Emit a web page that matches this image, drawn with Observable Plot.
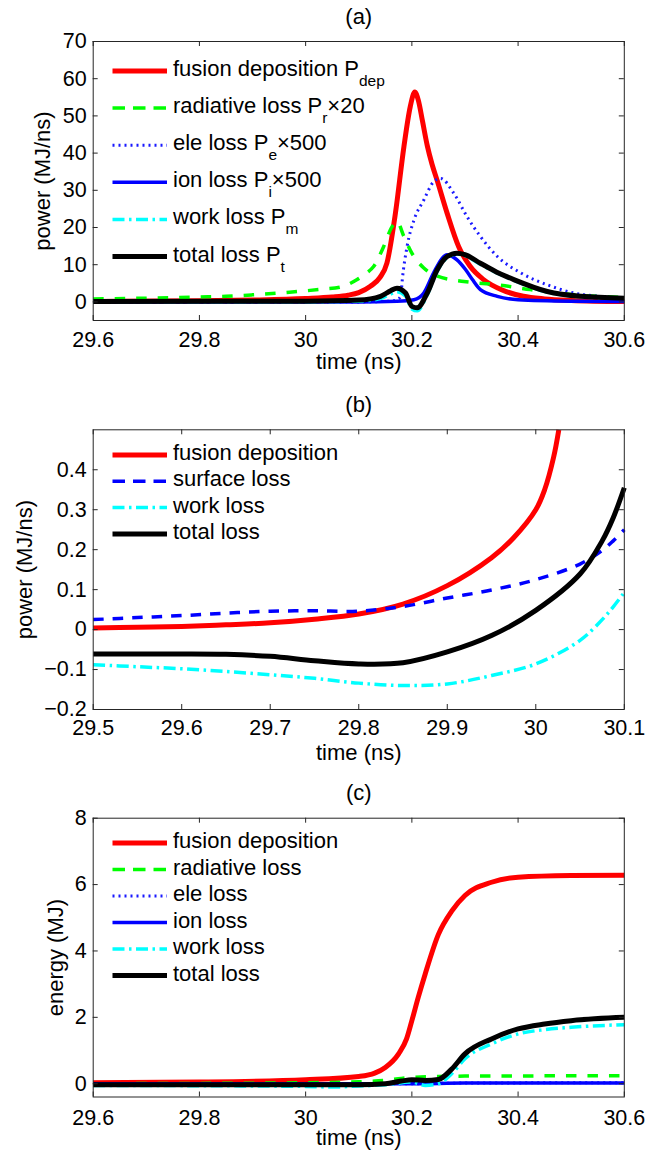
<!DOCTYPE html>
<html>
<head>
<meta charset="utf-8">
<script src="https://cdn.jsdelivr.net/npm/d3@7"></script>
<script src="https://cdn.jsdelivr.net/npm/@observablehq/plot@0.6"></script>
<style>
  html, body { margin: 0; padding: 0; background: #fff; }
  svg { display: block; }
</style>
</head>
<body>
<div id="chart"></div>
<script>
// ---------- Panel (a): power ----------
const aTitle = "(a)";
const aXLabel = "time (ns)";
const aYLabel = "power (MJ/ns)";
const aXDomain = [29.6, 30.6];
const aYDomain = [-5, 70];
const aXTicks = [29.6, 29.8, 30, 30.2, 30.4, 30.6];
const aYTicks = [0, 10, 20, 30, 40, 50, 60, 70];

const aDepT = [29.6, 29.8, 29.9, 30.0, 30.05, 30.08, 30.1, 30.122, 30.14, 30.153, 30.169, 30.185, 30.197, 30.2055, 30.212, 30.22, 30.229, 30.238, 30.248, 30.2665, 30.288, 30.31, 30.335, 30.37, 30.41, 30.45, 30.5, 30.6];
const aDepV = [0.1, 0.3, 0.5, 0.9, 1.3, 1.8, 2.5, 4.2, 6.6, 10.4, 23.8, 41.7, 52.5, 56.4, 54.3, 48.6, 42.0, 37.0, 32.5, 23.8, 14.9, 9.5, 6.0, 3.2, 1.5, 0.8, 0.4, 0.1];

const aRadT = [29.6, 29.7, 29.8, 29.85, 29.9, 29.97, 30.03, 30.066, 30.097, 30.115, 30.128, 30.147, 30.163, 30.172, 30.185, 30.2, 30.2225, 30.248, 30.298, 30.361, 30.423, 30.5, 30.6];
const aRadV = [0.8, 1.0, 1.3, 1.5, 1.9, 2.6, 3.4, 4.0, 6.0, 7.8, 9.5, 14.9, 20.3, 21.6, 17.6, 13.1, 9.1, 6.9, 5.5, 4.6, 3.3, 2.0, 1.2];

const aEleT = [29.6, 30.1, 30.16, 30.172, 30.179, 30.182, 30.191, 30.204, 30.2225, 30.241, 30.254, 30.279, 30.304, 30.329, 30.361, 30.405, 30.455, 30.505, 30.55, 30.6];
const aEleV = [0, 0, 0.2, 0.6, 1.5, 6.0, 14.9, 22.0, 27.4, 32.3, 33.2, 29.2, 22.9, 17.6, 12.2, 7.8, 4.6, 2.4, 1.5, 0.9];

const aIonT = [29.6, 30.1, 30.172, 30.204, 30.2225, 30.241, 30.26, 30.266, 30.285, 30.301, 30.314, 30.329, 30.361, 30.4, 30.5, 30.6];
const aIonV = [0, 0, 0.2, 0.6, 2.4, 7.8, 12.2, 12.7, 11.3, 8.7, 6.0, 3.3, 1.5, 0.6, 0.2, 0.1];

const aWorkT = [29.6, 30.0, 30.1, 30.141, 30.16, 30.172, 30.188, 30.2, 30.21, 30.229, 30.248, 30.2665, 30.285, 30.3, 30.329, 30.36, 30.392, 30.455, 30.518, 30.6];
const aWorkV = [0.05, 0.05, 0.2, 0.9, 2.1, 2.7, 1.6, -1.9, -2.4, 1.9, 8.3, 11.9, 12.85, 12.4, 10.1, 7.8, 5.8, 2.65, 1.4, 0.95];

const aTotT = [29.6, 30.0, 30.1, 30.141, 30.16, 30.172, 30.188, 30.2, 30.21, 30.229, 30.248, 30.2665, 30.285, 30.3, 30.329, 30.36, 30.392, 30.455, 30.518, 30.6];
const aTotV = [0.1, 0.2, 0.5, 1.5, 3.0, 3.7, 2.4, -1.2, -1.6, 2.4, 8.7, 12.2, 13.1, 12.7, 10.4, 8.0, 6.0, 2.8, 1.5, 1.0];

const aLegend = [
  ["fusion deposition P", "dep", ""],
  ["radiative loss P", "r", "×20"],
  ["ele loss P", "e", "×500"],
  ["ion loss P", "i", "×500"],
  ["work loss P", "m", ""],
  ["total loss P", "t", ""]
];

// ---------- Panel (b): power, early window ----------
const bTitle = "(b)";
const bXLabel = "time (ns)";
const bYLabel = "power (MJ/ns)";
const bXDomain = [29.5, 30.1];
const bYDomain = [-0.2, 0.5];
const bXTicks = [29.5, 29.6, 29.7, 29.8, 29.9, 30.0, 30.1];
const bYTicks = [-0.2, -0.1, 0, 0.1, 0.2, 0.3, 0.4];

const bDepT = [29.5, 29.55, 29.6, 29.65, 29.7, 29.75, 29.8, 29.85, 29.9, 29.95, 29.975, 30.0, 30.01, 30.02, 30.026];
const bDepV = [0.004, 0.006, 0.008, 0.012, 0.017, 0.026, 0.039, 0.064, 0.11, 0.18, 0.23, 0.3, 0.35, 0.43, 0.5];

const bT = [29.5, 29.55, 29.6, 29.65, 29.7, 29.75, 29.8, 29.85, 29.9, 29.95, 30.0, 30.05, 30.075, 30.0875, 30.1];
const bSurfV = [0.025, 0.030, 0.035, 0.041, 0.046, 0.047, 0.046, 0.058, 0.079, 0.099, 0.125, 0.164, 0.198, 0.222, 0.25];
const bWorkV = [-0.088, -0.093, -0.098, -0.105, -0.113, -0.122, -0.134, -0.140, -0.136, -0.115, -0.086, -0.027, 0.025, 0.057, 0.093];
const bTotV = [-0.061, -0.061, -0.061, -0.062, -0.067, -0.078, -0.086, -0.083, -0.056, -0.015, 0.048, 0.139, 0.222, 0.28, 0.355];

const bLegend = [
  ["fusion deposition", "", ""],
  ["surface loss", "", ""],
  ["work loss", "", ""],
  ["total loss", "", ""]
];

// ---------- Panel (c): energy ----------
const cTitle = "(c)";
const cXLabel = "time (ns)";
const cYLabel = "energy (MJ)";
const cXDomain = [29.6, 30.6];
const cYDomain = [-0.4, 8];
const cXTicks = [29.6, 29.8, 30, 30.2, 30.4, 30.6];
const cYTicks = [0, 2, 4, 6, 8];

const cDepT = [29.6, 29.8, 30.0, 30.1, 30.13, 30.15, 30.175, 30.19, 30.2, 30.212, 30.225, 30.25, 30.275, 30.3, 30.35, 30.4, 30.5, 30.6];
const cDepV = [0.03, 0.05, 0.12, 0.22, 0.32, 0.49, 0.9, 1.35, 1.9, 2.6, 3.3, 4.5, 5.2, 5.67, 6.07, 6.22, 6.27, 6.28];

const cRadT = [29.6, 30.0, 30.1, 30.15, 30.18, 30.2, 30.25, 30.3, 30.6];
const cRadV = [0.0, 0.03, 0.06, 0.1, 0.16, 0.19, 0.22, 0.23, 0.24];

const cEleT = [29.6, 30.2, 30.3, 30.6];
const cEleV = [0.0, 0.0, 0.02, 0.03];

const cIonT = [29.6, 30.2, 30.3, 30.6];
const cIonV = [0.0, 0.0, 0.02, 0.02];

const cWorkT = [29.6, 30.0, 30.05, 30.1, 30.15, 30.2, 30.225, 30.25, 30.275, 30.3, 30.35, 30.4, 30.45, 30.5, 30.6];
const cWorkV = [-0.05, -0.08, -0.1, -0.07, -0.03, 0.05, -0.05, 0.0, 0.3, 0.75, 1.2, 1.5, 1.63, 1.7, 1.78];

const cTotT = [29.6, 30.1, 30.15, 30.18, 30.2, 30.225, 30.25, 30.275, 30.3, 30.35, 30.4, 30.45, 30.5, 30.6];
const cTotV = [-0.03, -0.03, 0.0, 0.08, 0.12, 0.1, 0.13, 0.44, 0.9, 1.35, 1.65, 1.8, 1.9, 2.0];

const cLegend = [
  ["fusion deposition", "", ""],
  ["radiative loss", "", ""],
  ["ele loss", "", ""],
  ["ion loss", "", ""],
  ["work loss", "", ""],
  ["total loss", "", ""]
];

// ---------- styles ----------
const FONT = "'Liberation Sans', Arial, Helvetica, sans-serif";
const AX = "#262626";
const W = 657, H = 384, ML = 92.7, MR = 657 - 623.8;
const ST = {
  dep:  {color: "#ff0000", width: 5,   dash: null,             legDash: null},
  rad:  {color: "#00ff00", width: 3.5, dash: "10.5,11",        legDash: "12.5,8"},
  ele:  {color: "#1a1aff", width: 3,   dash: "2,4",            legDash: "2,4"},
  ion:  {color: "#0000ff", width: 3.5, dash: null,             legDash: null},
  surf: {color: "#0000ff", width: 3.5, dash: "10.5,9",         legDash: "12.5,8"},
  work: {color: "#00ffff", width: 3.5, dash: "12,4.5,2.5,4.5", legDash: "12,4.5,2.5,4.5"},
  tot:  {color: "#000000", width: 5,   dash: null,             legDash: null}
};

const rows = (t, v) => t.map((x, i) => ({t: x, v: v[i]}));
const fmt = d => String(Math.round(d * 10) / 10).replace("-", "−");

function panel(o) {
  const fh = H - o.top - o.bottom;
  const fw = W - ML - MR;
  const marks = [];
  for (const s of o.series) {
    marks.push(Plot.line(rows(s.t, s.v), {
      x: "t", y: "v", stroke: s.st.color, strokeWidth: s.st.width,
      strokeDasharray: s.st.dash, strokeLinecap: "butt", strokeLinejoin: "round",
      curve: o.curve
    }));
  }
  marks.push(Plot.frame({stroke: AX, strokeWidth: 1}));
  marks.push(Plot.tickX(o.xTicks, {x: d => d, insetTop: fh - 5, stroke: AX, strokeWidth: 1}));
  marks.push(Plot.tickX(o.xTicks, {x: d => d, insetBottom: fh - 5, stroke: AX, strokeWidth: 1}));
  marks.push(Plot.tickY(o.yTicks, {y: d => d, insetRight: fw - 5, stroke: AX, strokeWidth: 1}));
  marks.push(Plot.tickY(o.yTicks, {y: d => d, insetLeft: fw - 5, stroke: AX, strokeWidth: 1}));
  marks.push(Plot.text(o.xTicks, {x: d => d, text: fmt, frameAnchor: "bottom", textAnchor: "middle", lineAnchor: "bottom", dy: o.tickDy, fontSize: 21.5, fill: "#000"}));
  marks.push(Plot.text(o.yTicks, {y: d => d, text: fmt, frameAnchor: "left", textAnchor: "end", lineAnchor: "middle", dx: -6.5, fontSize: 21.5, fill: "#000"}));
  marks.push(Plot.text([o.title], {text: d => d, frameAnchor: "top", textAnchor: "middle", lineAnchor: "bottom", dy: -18, fontSize: 22, fill: "#000"}));
  marks.push(Plot.text([o.xLabel], {text: d => d, frameAnchor: "bottom", textAnchor: "middle", lineAnchor: "bottom", dy: o.labelDy, fontSize: 22, fill: "#000"}));
  marks.push(Plot.text([o.yLabel], {text: d => d, frameAnchor: "left", textAnchor: "middle", lineAnchor: "bottom", rotate: -90, dx: -o.yLabelOffset, fontSize: 22, fill: "#000"}));

  const svg = Plot.plot({
    width: W, height: H,
    marginTop: o.top, marginBottom: o.bottom, marginLeft: ML, marginRight: MR,
    x: {domain: o.xDomain, axis: null},
    y: {domain: o.yDomain, axis: null},
    style: {fontFamily: FONT, background: "#fff", color: "#000", overflow: "visible"},
    marks
  });

  // legend (no box), drawn on top of the plot
  const g = d3.select(svg).append("g")
    .attr("font-family", FONT).attr("fill", "#000").attr("text-anchor", "start");
  o.legend.forEach(([label, sub, after], i) => {
    const st = o.series[i].st;
    const y = o.top + o.legStart + i * o.legStep;
    g.append("line")
      .attr("x1", 112.5).attr("x2", 167).attr("y1", y).attr("y2", y)
      .attr("stroke", st.color).attr("stroke-width", st.width)
      .attr("stroke-dasharray", st.legDash).attr("stroke-linecap", "butt");
    const t = g.append("text").attr("x", 173).attr("y", y + 5)
      .attr("font-size", 22).attr("text-anchor", "start").text(label);
    if (sub) {
      t.append("tspan").attr("dy", 10).attr("font-size", 15.5).text(sub);
      if (after) t.append("tspan").attr("dy", -10).attr("font-size", 22).text(after);
    }
  });
  return svg;
}

const chart = document.getElementById("chart");

chart.appendChild(panel({
  title: aTitle, xLabel: aXLabel, yLabel: aYLabel, xDomain: aXDomain, yDomain: aYDomain,
  xTicks: aXTicks, yTicks: aYTicks, top: 41, bottom: 64, yLabelOffset: 43.2,
  tickDy: 26.7, labelDy: 48.7,
  legStart: 30, legStep: 37.1, legend: aLegend, curve: "monotone-x",
  series: [
    {t: aDepT, v: aDepV, st: ST.dep},
    {t: aRadT, v: aRadV, st: ST.rad},
    {t: aEleT, v: aEleV, st: ST.ele},
    {t: aIonT, v: aIonV, st: ST.ion},
    {t: aWorkT, v: aWorkV, st: ST.work},
    {t: aTotT, v: aTotV, st: ST.tot}
  ]
}));

chart.appendChild(panel({
  title: bTitle, xLabel: bXLabel, yLabel: bYLabel, xDomain: bXDomain, yDomain: bYDomain,
  xTicks: bXTicks, yTicks: bYTicks, top: 45.3, bottom: 59, yLabelOffset: 61.5,
  tickDy: 25.5, labelDy: 50,
  legStart: 25.7, legStep: 26.3, legend: bLegend, curve: "catmull-rom",
  series: [
    {t: bDepT, v: bDepV, st: ST.dep},
    {t: bT, v: bSurfV, st: ST.surf},
    {t: bT, v: bWorkV, st: ST.work},
    {t: bT, v: bTotV, st: ST.tot}
  ]
}));

chart.appendChild(panel({
  title: cTitle, xLabel: cXLabel, yLabel: cYLabel, xDomain: cXDomain, yDomain: cYDomain,
  xTicks: cXTicks, yTicks: cYTicks, top: 49.7, bottom: 55.5, yLabelOffset: 30.3,
  tickDy: 27.5, labelDy: 47.5,
  legStart: 25.3, legStep: 26.5, legend: cLegend, curve: "monotone-x",
  series: [
    {t: cDepT, v: cDepV, st: ST.dep},
    {t: cRadT, v: cRadV, st: ST.rad},
    {t: cEleT, v: cEleV, st: ST.ele},
    {t: cIonT, v: cIonV, st: ST.ion},
    {t: cWorkT, v: cWorkV, st: ST.work},
    {t: cTotT, v: cTotV, st: ST.tot}
  ]
}));
</script>
</body>
</html>
